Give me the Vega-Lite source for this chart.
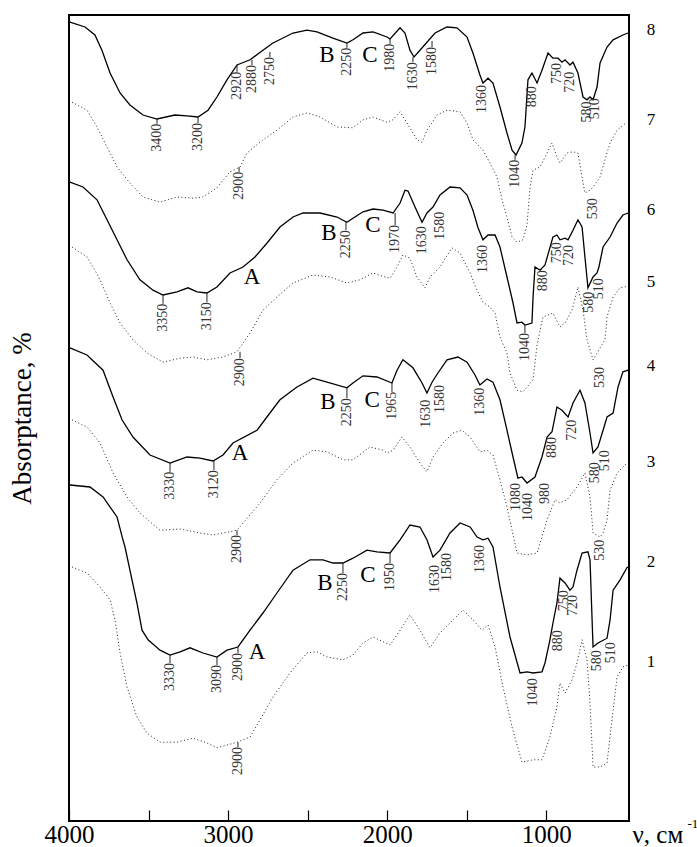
{
  "$schema": "https://vega.github.io/schema/vega-lite/v6.json",
  "width": 560,
  "height": 806,
  "autosize": {"type": "none"},
  "padding": {"left": 69, "top": 15, "right": 68, "bottom": 26},
  "background": "white",
  "config": {
    "view": {"stroke": "#000", "strokeWidth": 2},
    "font": "Liberation Serif"
  },
  "datasets": {
    "spec": [
      {"c":8,"wn":3994,"a":101.1},{"c":8,"wn":3899,"a":100.5},{"c":8,"wn":3837,"a":99.5},{"c":8,"wn":3793,"a":97.6},{"c":8,"wn":3742,"a":94.75},{"c":8,"wn":3679,"a":92.25},{"c":8,"wn":3617,"a":90.75},{"c":8,"wn":3535,"a":89.5},{"c":8,"wn":3447,"a":89.0},{"c":8,"wn":3334,"a":89.5},{"c":8,"wn":3258,"a":89.4},{"c":8,"wn":3189,"a":89.25},{"c":8,"wn":3126,"a":90.1},{"c":8,"wn":3070,"a":91.75},{"c":8,"wn":3007,"a":93.9},{"c":8,"wn":2944,"a":95.75},{"c":8,"wn":2913,"a":96.0},{"c":8,"wn":2862,"a":96.4},{"c":8,"wn":2781,"a":97.6},{"c":8,"wn":2718,"a":98.5},{"c":8,"wn":2592,"a":99.75},{"c":8,"wn":2504,"a":100.1},{"c":8,"wn":2441,"a":99.9},{"c":8,"wn":2341,"a":99.1},{"c":8,"wn":2253,"a":98.5},{"c":8,"wn":2215,"a":98.9},{"c":8,"wn":2152,"a":99.75},{"c":8,"wn":2089,"a":99.9},{"c":8,"wn":2001,"a":99.25},{"c":8,"wn":1982,"a":99.0},{"c":8,"wn":1919,"a":100.4},{"c":8,"wn":1888,"a":99.75},{"c":8,"wn":1857,"a":97.6},{"c":8,"wn":1831,"a":96.75},{"c":8,"wn":1794,"a":97.6},{"c":8,"wn":1750,"a":98.6},{"c":8,"wn":1699,"a":99.75},{"c":8,"wn":1624,"a":100.5},{"c":8,"wn":1561,"a":100.4},{"c":8,"wn":1498,"a":99.25},{"c":8,"wn":1461,"a":97.25},{"c":8,"wn":1417,"a":94.5},{"c":8,"wn":1398,"a":93.5},{"c":8,"wn":1366,"a":94.1},{"c":8,"wn":1335,"a":93.5},{"c":8,"wn":1291,"a":90.5},{"c":8,"wn":1247,"a":87.25},{"c":8,"wn":1215,"a":85.1},{"c":8,"wn":1190,"a":84.5},{"c":8,"wn":1153,"a":86.0},{"c":8,"wn":1134,"a":88.0},{"c":8,"wn":1115,"a":93.9},{"c":8,"wn":1090,"a":94.75},{"c":8,"wn":1058,"a":93.5},{"c":8,"wn":1027,"a":95.1},{"c":8,"wn":989,"a":97.25},{"c":8,"wn":958,"a":96.6},{"c":8,"wn":926,"a":96.6},{"c":8,"wn":901,"a":96.1},{"c":8,"wn":882,"a":96.4},{"c":8,"wn":851,"a":95.75},{"c":8,"wn":832,"a":96.1},{"c":8,"wn":801,"a":94.75},{"c":8,"wn":769,"a":91.75},{"c":8,"wn":744,"a":91.4},{"c":8,"wn":725,"a":91.75},{"c":8,"wn":706,"a":91.4},{"c":8,"wn":681,"a":93.0},{"c":8,"wn":662,"a":96.0},{"c":8,"wn":618,"a":98.0},{"c":8,"wn":580,"a":98.9},{"c":8,"wn":518,"a":99.5},{"c":8,"wn":486,"a":99.75},

      {"c":7,"wn":3981,"a":91.1},{"c":7,"wn":3887,"a":90.1},{"c":7,"wn":3824,"a":88.0},{"c":7,"wn":3761,"a":85.5},{"c":7,"wn":3698,"a":83.0},{"c":7,"wn":3617,"a":81.0},{"c":7,"wn":3535,"a":79.25},{"c":7,"wn":3428,"a":78.6},{"c":7,"wn":3321,"a":79.25},{"c":7,"wn":3221,"a":79.1},{"c":7,"wn":3158,"a":79.25},{"c":7,"wn":3070,"a":80.4},{"c":7,"wn":2988,"a":82.4},{"c":7,"wn":2925,"a":83.0},{"c":7,"wn":2881,"a":84.75},{"c":7,"wn":2781,"a":86.4},{"c":7,"wn":2693,"a":87.6},{"c":7,"wn":2592,"a":89.25},{"c":7,"wn":2504,"a":89.75},{"c":7,"wn":2422,"a":89.25},{"c":7,"wn":2315,"a":88.0},{"c":7,"wn":2215,"a":87.9},{"c":7,"wn":2152,"a":88.9},{"c":7,"wn":2089,"a":89.25},{"c":7,"wn":2001,"a":88.6},{"c":7,"wn":1963,"a":88.9},{"c":7,"wn":1919,"a":89.9},{"c":7,"wn":1875,"a":88.5},{"c":7,"wn":1813,"a":86.4},{"c":7,"wn":1781,"a":86.1},{"c":7,"wn":1750,"a":87.6},{"c":7,"wn":1687,"a":89.5},{"c":7,"wn":1624,"a":90.1},{"c":7,"wn":1542,"a":89.9},{"c":7,"wn":1498,"a":88.5},{"c":7,"wn":1461,"a":86.4},{"c":7,"wn":1398,"a":85.1},{"c":7,"wn":1354,"a":83.5},{"c":7,"wn":1310,"a":81.75},{"c":7,"wn":1278,"a":78.9},{"c":7,"wn":1247,"a":76.75},{"c":7,"wn":1215,"a":74.25},{"c":7,"wn":1184,"a":73.6},{"c":7,"wn":1146,"a":73.9},{"c":7,"wn":1121,"a":75.75},{"c":7,"wn":1102,"a":80.5},{"c":7,"wn":1083,"a":82.6},{"c":7,"wn":1039,"a":83.0},{"c":7,"wn":995,"a":84.75},{"c":7,"wn":964,"a":86.0},{"c":7,"wn":933,"a":84.25},{"c":7,"wn":914,"a":83.5},{"c":7,"wn":870,"a":84.75},{"c":7,"wn":832,"a":84.9},{"c":7,"wn":801,"a":84.75},{"c":7,"wn":775,"a":81.75},{"c":7,"wn":757,"a":79.75},{"c":7,"wn":725,"a":80.1},{"c":7,"wn":706,"a":80.5},{"c":7,"wn":662,"a":81.75},{"c":7,"wn":631,"a":83.9},{"c":7,"wn":599,"a":86.0},{"c":7,"wn":555,"a":87.6},{"c":7,"wn":493,"a":88.6},

      {"c":6,"wn":3994,"a":81.1},{"c":6,"wn":3912,"a":80.5},{"c":6,"wn":3824,"a":78.9},{"c":6,"wn":3761,"a":76.4},{"c":6,"wn":3698,"a":73.9},{"c":6,"wn":3635,"a":71.4},{"c":6,"wn":3554,"a":68.9},{"c":6,"wn":3472,"a":67.6},{"c":6,"wn":3409,"a":67.0},{"c":6,"wn":3321,"a":67.4},{"c":6,"wn":3252,"a":67.9},{"c":6,"wn":3195,"a":67.4},{"c":6,"wn":3133,"a":67.25},{"c":6,"wn":3070,"a":68.0},{"c":6,"wn":2988,"a":69.75},{"c":6,"wn":2906,"a":70.5},{"c":6,"wn":2831,"a":71.75},{"c":6,"wn":2755,"a":73.5},{"c":6,"wn":2674,"a":75.5},{"c":6,"wn":2592,"a":76.75},{"c":6,"wn":2529,"a":77.25},{"c":6,"wn":2422,"a":77.25},{"c":6,"wn":2315,"a":76.75},{"c":6,"wn":2253,"a":76.1},{"c":6,"wn":2215,"a":76.6},{"c":6,"wn":2152,"a":77.4},{"c":6,"wn":2089,"a":77.75},{"c":6,"wn":2026,"a":77.6},{"c":6,"wn":1963,"a":77.25},{"c":6,"wn":1919,"a":78.5},{"c":6,"wn":1888,"a":80.1},{"c":6,"wn":1869,"a":80.0},{"c":6,"wn":1825,"a":78.0},{"c":6,"wn":1781,"a":76.1},{"c":6,"wn":1750,"a":77.25},{"c":6,"wn":1712,"a":78.0},{"c":6,"wn":1668,"a":79.5},{"c":6,"wn":1605,"a":80.5},{"c":6,"wn":1542,"a":80.4},{"c":6,"wn":1498,"a":79.5},{"c":6,"wn":1461,"a":77.6},{"c":6,"wn":1429,"a":75.4},{"c":6,"wn":1398,"a":73.9},{"c":6,"wn":1366,"a":74.5},{"c":6,"wn":1322,"a":74.5},{"c":6,"wn":1291,"a":73.0},{"c":6,"wn":1247,"a":69.25},{"c":6,"wn":1209,"a":66.0},{"c":6,"wn":1184,"a":63.5},{"c":6,"wn":1153,"a":63.6},{"c":6,"wn":1134,"a":63.25},{"c":6,"wn":1090,"a":63.5},{"c":6,"wn":1083,"a":66.75},{"c":6,"wn":1071,"a":70.5},{"c":6,"wn":1039,"a":70.1},{"c":6,"wn":1008,"a":70.75},{"c":6,"wn":958,"a":74.25},{"c":6,"wn":933,"a":74.5},{"c":6,"wn":914,"a":73.9},{"c":6,"wn":882,"a":74.1},{"c":6,"wn":863,"a":73.9},{"c":6,"wn":832,"a":75.1},{"c":6,"wn":801,"a":76.4},{"c":6,"wn":775,"a":75.5},{"c":6,"wn":757,"a":71.75},{"c":6,"wn":738,"a":67.9},{"c":6,"wn":706,"a":69.25},{"c":6,"wn":681,"a":69.75},{"c":6,"wn":669,"a":70.5},{"c":6,"wn":643,"a":73.0},{"c":6,"wn":599,"a":74.25},{"c":6,"wn":555,"a":76.0},{"c":6,"wn":518,"a":77.0},{"c":6,"wn":486,"a":77.25},

      {"c":5,"wn":3981,"a":73.0},{"c":5,"wn":3887,"a":71.75},{"c":5,"wn":3837,"a":70.1},{"c":5,"wn":3805,"a":68.9},{"c":5,"wn":3742,"a":66.0},{"c":5,"wn":3679,"a":63.5},{"c":5,"wn":3598,"a":61.4},{"c":5,"wn":3510,"a":59.75},{"c":5,"wn":3409,"a":58.6},{"c":5,"wn":3302,"a":59.1},{"c":5,"wn":3221,"a":59.25},{"c":5,"wn":3133,"a":58.9},{"c":5,"wn":3032,"a":59.25},{"c":5,"wn":2944,"a":59.9},{"c":5,"wn":2862,"a":62.25},{"c":5,"wn":2781,"a":65.1},{"c":5,"wn":2693,"a":66.75},{"c":5,"wn":2592,"a":68.5},{"c":5,"wn":2466,"a":69.5},{"c":5,"wn":2359,"a":69.25},{"c":5,"wn":2253,"a":68.5},{"c":5,"wn":2171,"a":68.9},{"c":5,"wn":2089,"a":69.75},{"c":5,"wn":2014,"a":69.25},{"c":5,"wn":1982,"a":69.1},{"c":5,"wn":1938,"a":70.5},{"c":5,"wn":1901,"a":72.0},{"c":5,"wn":1857,"a":71.6},{"c":5,"wn":1813,"a":69.25},{"c":5,"wn":1762,"a":67.9},{"c":5,"wn":1731,"a":69.25},{"c":5,"wn":1668,"a":70.5},{"c":5,"wn":1593,"a":72.9},{"c":5,"wn":1542,"a":72.25},{"c":5,"wn":1479,"a":69.75},{"c":5,"wn":1435,"a":67.6},{"c":5,"wn":1398,"a":66.1},{"c":5,"wn":1354,"a":65.5},{"c":5,"wn":1322,"a":64.75},{"c":5,"wn":1291,"a":61.75},{"c":5,"wn":1247,"a":59.75},{"c":5,"wn":1228,"a":57.25},{"c":5,"wn":1184,"a":55.1},{"c":5,"wn":1146,"a":54.9},{"c":5,"wn":1083,"a":56.4},{"c":5,"wn":1058,"a":60.75},{"c":5,"wn":1021,"a":64.25},{"c":5,"wn":958,"a":64.75},{"c":5,"wn":914,"a":63.0},{"c":5,"wn":882,"a":63.5},{"c":5,"wn":838,"a":65.1},{"c":5,"wn":801,"a":68.0},{"c":5,"wn":769,"a":65.1},{"c":5,"wn":744,"a":61.4},{"c":5,"wn":706,"a":58.9},{"c":5,"wn":681,"a":59.75},{"c":5,"wn":631,"a":61.4},{"c":5,"wn":618,"a":64.25},{"c":5,"wn":580,"a":66.75},{"c":5,"wn":536,"a":67.9},{"c":5,"wn":486,"a":68.1},

      {"c":4,"wn":3994,"a":60.4},{"c":4,"wn":3887,"a":59.5},{"c":4,"wn":3786,"a":57.6},{"c":4,"wn":3723,"a":54.25},{"c":4,"wn":3667,"a":51.4},{"c":4,"wn":3598,"a":49.25},{"c":4,"wn":3491,"a":47.0},{"c":4,"wn":3365,"a":46.0},{"c":4,"wn":3258,"a":46.75},{"c":4,"wn":3177,"a":46.6},{"c":4,"wn":3095,"a":46.25},{"c":4,"wn":3032,"a":47.0},{"c":4,"wn":2969,"a":48.5},{"c":4,"wn":2818,"a":50.1},{"c":4,"wn":2737,"a":52.25},{"c":4,"wn":2674,"a":53.9},{"c":4,"wn":2567,"a":55.5},{"c":4,"wn":2466,"a":56.6},{"c":4,"wn":2378,"a":56.1},{"c":4,"wn":2253,"a":55.4},{"c":4,"wn":2215,"a":56.0},{"c":4,"wn":2152,"a":56.9},{"c":4,"wn":2064,"a":56.75},{"c":4,"wn":1970,"a":56.0},{"c":4,"wn":1938,"a":57.6},{"c":4,"wn":1901,"a":58.9},{"c":4,"wn":1838,"a":57.9},{"c":4,"wn":1781,"a":56.0},{"c":4,"wn":1750,"a":54.75},{"c":4,"wn":1718,"a":56.1},{"c":4,"wn":1681,"a":57.25},{"c":4,"wn":1624,"a":58.9},{"c":4,"wn":1555,"a":59.25},{"c":4,"wn":1498,"a":58.6},{"c":4,"wn":1448,"a":57.0},{"c":4,"wn":1417,"a":55.75},{"c":4,"wn":1373,"a":56.5},{"c":4,"wn":1335,"a":56.1},{"c":4,"wn":1291,"a":53.9},{"c":4,"wn":1247,"a":50.1},{"c":4,"wn":1209,"a":46.75},{"c":4,"wn":1178,"a":44.1},{"c":4,"wn":1153,"a":44.25},{"c":4,"wn":1121,"a":43.5},{"c":4,"wn":1071,"a":44.25},{"c":4,"wn":1027,"a":46.75},{"c":4,"wn":995,"a":49.25},{"c":4,"wn":964,"a":49.9},{"c":4,"wn":933,"a":53.0},{"c":4,"wn":901,"a":52.6},{"c":4,"wn":863,"a":51.75},{"c":4,"wn":832,"a":53.5},{"c":4,"wn":788,"a":55.1},{"c":4,"wn":757,"a":53.5},{"c":4,"wn":725,"a":49.75},{"c":4,"wn":706,"a":47.25},{"c":4,"wn":675,"a":48.0},{"c":4,"wn":643,"a":50.1},{"c":4,"wn":618,"a":51.75},{"c":4,"wn":580,"a":52.25},{"c":4,"wn":549,"a":55.5},{"c":4,"wn":518,"a":57.4},{"c":4,"wn":486,"a":57.6},

      {"c":3,"wn":3981,"a":51.4},{"c":3,"wn":3887,"a":50.5},{"c":3,"wn":3805,"a":48.5},{"c":3,"wn":3723,"a":44.75},{"c":3,"wn":3635,"a":41.75},{"c":3,"wn":3554,"a":39.75},{"c":3,"wn":3428,"a":37.6},{"c":3,"wn":3302,"a":37.75},{"c":3,"wn":3177,"a":37.25},{"c":3,"wn":3095,"a":37.0},{"c":3,"wn":2944,"a":37.6},{"c":3,"wn":2799,"a":41.0},{"c":3,"wn":2693,"a":43.9},{"c":3,"wn":2592,"a":46.0},{"c":3,"wn":2466,"a":47.6},{"c":3,"wn":2378,"a":47.4},{"c":3,"wn":2278,"a":46.4},{"c":3,"wn":2215,"a":46.4},{"c":3,"wn":2108,"a":48.0},{"c":3,"wn":2026,"a":47.6},{"c":3,"wn":2001,"a":47.25},{"c":3,"wn":1963,"a":47.6},{"c":3,"wn":1907,"a":49.25},{"c":3,"wn":1857,"a":48.0},{"c":3,"wn":1794,"a":46.0},{"c":3,"wn":1750,"a":44.9},{"c":3,"wn":1712,"a":46.75},{"c":3,"wn":1649,"a":48.5},{"c":3,"wn":1586,"a":49.75},{"c":3,"wn":1530,"a":50.1},{"c":3,"wn":1479,"a":49.25},{"c":3,"wn":1417,"a":47.4},{"c":3,"wn":1373,"a":47.6},{"c":3,"wn":1335,"a":47.0},{"c":3,"wn":1291,"a":43.9},{"c":3,"wn":1247,"a":40.5},{"c":3,"wn":1215,"a":37.6},{"c":3,"wn":1184,"a":34.75},{"c":3,"wn":1121,"a":34.5},{"c":3,"wn":1058,"a":34.75},{"c":3,"wn":1027,"a":36.75},{"c":3,"wn":995,"a":38.9},{"c":3,"wn":945,"a":41.4},{"c":3,"wn":914,"a":41.0},{"c":3,"wn":870,"a":41.4},{"c":3,"wn":807,"a":43.0},{"c":3,"wn":757,"a":44.75},{"c":3,"wn":725,"a":41.75},{"c":3,"wn":706,"a":37.25},{"c":3,"wn":662,"a":36.75},{"c":3,"wn":643,"a":37.25},{"c":3,"wn":618,"a":38.9},{"c":3,"wn":599,"a":42.6},{"c":3,"wn":555,"a":44.75},{"c":3,"wn":493,"a":46.0},

      {"c":2,"wn":3994,"a":43.25},{"c":2,"wn":3868,"a":43.0},{"c":2,"wn":3786,"a":41.75},{"c":2,"wn":3698,"a":39.25},{"c":2,"wn":3661,"a":36.4},{"c":2,"wn":3648,"a":35.5},{"c":2,"wn":3617,"a":32.6},{"c":2,"wn":3573,"a":28.5},{"c":2,"wn":3541,"a":25.1},{"c":2,"wn":3503,"a":23.9},{"c":2,"wn":3428,"a":22.6},{"c":2,"wn":3365,"a":22.0},{"c":2,"wn":3302,"a":22.4},{"c":2,"wn":3239,"a":22.9},{"c":2,"wn":3158,"a":22.25},{"c":2,"wn":3070,"a":21.75},{"c":2,"wn":3007,"a":22.6},{"c":2,"wn":2938,"a":23.0},{"c":2,"wn":2862,"a":25.1},{"c":2,"wn":2781,"a":27.25},{"c":2,"wn":2693,"a":29.75},{"c":2,"wn":2592,"a":32.6},{"c":2,"wn":2485,"a":33.9},{"c":2,"wn":2403,"a":33.9},{"c":2,"wn":2341,"a":33.5},{"c":2,"wn":2278,"a":33.5},{"c":2,"wn":2215,"a":34.1},{"c":2,"wn":2127,"a":35.1},{"c":2,"wn":2064,"a":34.9},{"c":2,"wn":1982,"a":34.75},{"c":2,"wn":1919,"a":36.4},{"c":2,"wn":1857,"a":38.25},{"c":2,"wn":1794,"a":38.0},{"c":2,"wn":1750,"a":36.4},{"c":2,"wn":1712,"a":34.25},{"c":2,"wn":1668,"a":35.1},{"c":2,"wn":1605,"a":37.25},{"c":2,"wn":1542,"a":38.5},{"c":2,"wn":1479,"a":38.0},{"c":2,"wn":1435,"a":36.75},{"c":2,"wn":1398,"a":36.4},{"c":2,"wn":1366,"a":36.6},{"c":2,"wn":1335,"a":35.5},{"c":2,"wn":1291,"a":30.5},{"c":2,"wn":1228,"a":24.25},{"c":2,"wn":1165,"a":19.75},{"c":2,"wn":1121,"a":19.9},{"c":2,"wn":1083,"a":19.75},{"c":2,"wn":1027,"a":19.9},{"c":2,"wn":1008,"a":21.0},{"c":2,"wn":977,"a":23.9},{"c":2,"wn":958,"a":26.0},{"c":2,"wn":933,"a":28.5},{"c":2,"wn":914,"a":31.6},{"c":2,"wn":882,"a":31.0},{"c":2,"wn":851,"a":30.1},{"c":2,"wn":832,"a":30.5},{"c":2,"wn":807,"a":32.6},{"c":2,"wn":775,"a":34.75},{"c":2,"wn":738,"a":34.9},{"c":2,"wn":725,"a":33.9},{"c":2,"wn":712,"a":26.4},{"c":2,"wn":706,"a":23.0},{"c":2,"wn":675,"a":23.5},{"c":2,"wn":618,"a":24.1},{"c":2,"wn":599,"a":26.4},{"c":2,"wn":580,"a":30.1},{"c":2,"wn":536,"a":31.4},{"c":2,"wn":493,"a":32.9},{"c":2,"wn":486,"a":33.0},

      {"c":1,"wn":3981,"a":33.0},{"c":1,"wn":3887,"a":32.25},{"c":1,"wn":3805,"a":30.5},{"c":1,"wn":3742,"a":28.9},{"c":1,"wn":3711,"a":26.4},{"c":1,"wn":3679,"a":22.25},{"c":1,"wn":3635,"a":18.0},{"c":1,"wn":3573,"a":14.25},{"c":1,"wn":3510,"a":12.25},{"c":1,"wn":3428,"a":11.1},{"c":1,"wn":3321,"a":11.1},{"c":1,"wn":3221,"a":11.6},{"c":1,"wn":3133,"a":11.0},{"c":1,"wn":3070,"a":10.4},{"c":1,"wn":2944,"a":11.1},{"c":1,"wn":2862,"a":11.75},{"c":1,"wn":2799,"a":13.9},{"c":1,"wn":2718,"a":16.75},{"c":1,"wn":2611,"a":19.75},{"c":1,"wn":2504,"a":22.25},{"c":1,"wn":2441,"a":22.4},{"c":1,"wn":2378,"a":21.75},{"c":1,"wn":2278,"a":21.4},{"c":1,"wn":2215,"a":22.0},{"c":1,"wn":2152,"a":23.5},{"c":1,"wn":2089,"a":24.25},{"c":1,"wn":1982,"a":23.25},{"c":1,"wn":1919,"a":25.1},{"c":1,"wn":1857,"a":27.0},{"c":1,"wn":1794,"a":25.1},{"c":1,"wn":1731,"a":22.9},{"c":1,"wn":1668,"a":24.75},{"c":1,"wn":1586,"a":26.4},{"c":1,"wn":1523,"a":27.6},{"c":1,"wn":1461,"a":26.4},{"c":1,"wn":1404,"a":25.1},{"c":1,"wn":1366,"a":25.75},{"c":1,"wn":1322,"a":23.0},{"c":1,"wn":1272,"a":18.0},{"c":1,"wn":1215,"a":13.0},{"c":1,"wn":1153,"a":8.6},{"c":1,"wn":1083,"a":8.9},{"c":1,"wn":1027,"a":8.9},{"c":1,"wn":977,"a":11.75},{"c":1,"wn":933,"a":15.5},{"c":1,"wn":914,"a":18.5},{"c":1,"wn":882,"a":17.25},{"c":1,"wn":838,"a":18.9},{"c":1,"wn":807,"a":21.0},{"c":1,"wn":775,"a":23.9},{"c":1,"wn":744,"a":21.4},{"c":1,"wn":725,"a":16.0},{"c":1,"wn":706,"a":8.0},{"c":1,"wn":662,"a":8.0},{"c":1,"wn":618,"a":8.5},{"c":1,"wn":587,"a":13.9},{"c":1,"wn":555,"a":19.25},{"c":1,"wn":518,"a":20.5},{"c":1,"wn":486,"a":20.75}
    ],
    "peaks": [
      {"t":"3400","wn":3447,"a":88.4,"base":89.0},{"t":"3200","wn":3189,"a":88.5,"base":89.25},{"t":"2920","wn":2944,"a":94.9,"base":95.75},{"t":"2880","wn":2850,"a":95.75,"base":96.4},{"t":"2750","wn":2737,"a":96.75,"base":97.4},{"t":"2250","wn":2253,"a":97.9,"base":98.5},{"t":"1980","wn":1982,"a":98.4,"base":99.0},{"t":"1630","wn":1838,"a":96.1,"base":96.75},{"t":"1580","wn":1718,"a":98.0,"base":98.75},{"t":"1360","wn":1404,"a":93.25},{"t":"1040","wn":1196,"a":83.9,"base":84.5},{"t":"880","wn":1090,"a":93.1},{"t":"750","wn":933,"a":96.0},{"t":"720","wn":851,"a":94.9},{"t":"580","wn":744,"a":91.2},{"t":"510","wn":693,"a":91.6},
      {"t":"2900","wn":2931,"a":82.4,"base":83.0},{"t":"530","wn":706,"a":79.1},
      {"t":"3350","wn":3409,"a":65.9,"base":67.0},{"t":"3150","wn":3133,"a":66.1,"base":67.25},{"t":"2250","wn":2259,"a":75.1,"base":76.1},{"t":"1970","wn":1950,"a":75.75,"base":77.25},{"t":"1630","wn":1781,"a":75.6},{"t":"1580","wn":1668,"a":77.4},{"t":"1360","wn":1398,"a":73.25},{"t":"1040","wn":1134,"a":62.25,"base":63.25},{"t":"880","wn":1021,"a":70.1},{"t":"750","wn":933,"a":73.6},{"t":"720","wn":857,"a":73.25},{"t":"580","wn":731,"a":67.4},{"t":"510","wn":669,"a":69.1},
      {"t":"2900","wn":2925,"a":59.1,"base":59.9},{"t":"530","wn":662,"a":58.0},
      {"t":"3330","wn":3365,"a":44.9,"base":46.0},{"t":"3120","wn":3089,"a":45.1,"base":46.25},{"t":"2250","wn":2253,"a":54.1,"base":55.4},{"t":"1965","wn":1970,"a":54.9,"base":56.0},{"t":"1630","wn":1756,"a":53.9},{"t":"1580","wn":1668,"a":55.75},{"t":"1360","wn":1417,"a":55.4},{"t":"1080","wn":1190,"a":43.5},{"t":"1040","wn":1115,"a":42.25},{"t":"980","wn":1008,"a":43.5},{"t":"880","wn":964,"a":49.25},{"t":"720","wn":838,"a":51.4},{"t":"580","wn":693,"a":46.1},{"t":"510","wn":631,"a":47.6},
      {"t":"2900","wn":2944,"a":37.0,"base":37.6},{"t":"530","wn":662,"a":36.4},
      {"t":"3330","wn":3365,"a":21.0,"base":22.0},{"t":"3090","wn":3070,"a":20.75,"base":21.75},{"t":"2900","wn":2938,"a":22.25,"base":23.0},{"t":"2250","wn":2278,"a":32.25,"base":33.5},{"t":"1950","wn":1982,"a":33.5,"base":34.75},{"t":"1630","wn":1699,"a":33.25},{"t":"1580","wn":1624,"a":34.75},{"t":"1360","wn":1417,"a":35.75},{"t":"1040","wn":1083,"a":19.1},{"t":"880","wn":926,"a":25.1},{"t":"750","wn":889,"a":30.1},{"t":"720","wn":832,"a":29.5},{"t":"580","wn":681,"a":22.6},{"t":"510","wn":593,"a":23.6},
      {"t":"2900","wn":2938,"a":10.5,"base":11.1}
    ],
    "bands": [
      {"t":"B","wn":2378,"a":97.0},{"t":"C","wn":2108,"a":97.0},
      {"t":"B","wn":2366,"a":74.75},{"t":"C","wn":2089,"a":75.75},{"t":"A","wn":2850,"a":69.25},
      {"t":"B","wn":2372,"a":53.6},{"t":"C","wn":2095,"a":53.9},{"t":"A","wn":2925,"a":47.25},
      {"t":"B","wn":2391,"a":31.0},{"t":"C","wn":2121,"a":32.0},{"t":"A","wn":2818,"a":22.4}
    ],
    "curveNo": [
      {"t":"8","wn":342,"a":100.1},{"t":"7","wn":342,"a":88.9},{"t":"6","wn":342,"a":77.6},{"t":"5","wn":342,"a":68.6},
      {"t":"4","wn":342,"a":58.1},{"t":"3","wn":342,"a":46.1},{"t":"2","wn":342,"a":33.6},{"t":"1","wn":342,"a":21.1}
    ],
    "unitExp": [
      {"t":"-1","wn":112,"a":0.9}
    ]
  },
  "encoding": {
    "x": {
      "field": "wn",
      "type": "quantitative",
      "scale": {"domain": [4000, 480], "nice": false, "zero": false},
      "axis": {
        "values": [4000, 3500, 3000, 2500, 2000, 1500, 1000],
        "format": "d",
        "labelExpr": "datum.value % 1000 === 0 ? datum.label : ''",
        "labelFlush": false,
        "labelOverlap": false,
        "grid": false,
        "domain": false,
        "tickSize": -11,
        "tickColor": "#000",
        "tickWidth": 1.2,
        "labelFont": "Liberation Serif",
        "labelFontSize": 25,
        "labelColor": "#000",
        "labelBaseline": "bottom",
        "labelPadding": 37,
        "title": "ν, см",
        "titleFont": "Liberation Serif",
        "titleFontSize": 25,
        "titleFontWeight": "normal",
        "titleColor": "#000",
        "titleX": 563,
        "titleY": 26,
        "titleAlign": "left",
        "titleBaseline": "bottom"
      }
    },
    "y": {
      "field": "a",
      "type": "quantitative",
      "scale": {"domain": [1.25, 102], "nice": false, "zero": false},
      "axis": {
        "ticks": false,
        "labels": false,
        "domain": false,
        "grid": false,
        "title": "Absorptance, %",
        "titleFont": "Liberation Serif",
        "titleFontSize": 27,
        "titleFontWeight": "normal",
        "titleColor": "#000",
        "titlePadding": 33
      }
    }
  },
  "layer": [
    {
      "data": {"name": "spec"},
      "transform": [{"filter": "datum.c % 2 === 1"}],
      "mark": {"type": "line", "color": "#222", "strokeWidth": 1, "strokeDash": [1, 2.5]},
      "encoding": {"detail": {"field": "c", "type": "nominal"}}
    },
    {
      "data": {"name": "spec"},
      "transform": [{"filter": "datum.c % 2 === 0"}],
      "mark": {"type": "line", "color": "#000", "strokeWidth": 1.3},
      "encoding": {"detail": {"field": "c", "type": "nominal"}}
    },
    {
      "data": {"name": "peaks"},
      "transform": [{"filter": "datum.base != null"}],
      "mark": {"type": "rule", "color": "#222", "strokeWidth": 1},
      "encoding": {"y2": {"field": "base"}}
    },
    {
      "data": {"name": "peaks"},
      "mark": {"type": "text", "angle": 270, "align": "right", "baseline": "middle", "font": "Liberation Serif", "fontSize": 14, "color": "#333"},
      "encoding": {"text": {"field": "t", "type": "nominal"}}
    },
    {
      "data": {"name": "bands"},
      "mark": {"type": "text", "align": "center", "baseline": "middle", "font": "Liberation Serif", "fontSize": 23, "color": "#000"},
      "encoding": {"text": {"field": "t", "type": "nominal"}}
    },
    {
      "data": {"name": "curveNo"},
      "mark": {"type": "text", "align": "center", "baseline": "middle", "font": "Liberation Serif", "fontSize": 17, "color": "#000"},
      "encoding": {"text": {"field": "t", "type": "nominal"}}
    },
    {
      "data": {"name": "unitExp"},
      "mark": {"type": "text", "align": "left", "baseline": "middle", "font": "Liberation Serif", "fontSize": 13, "color": "#000"},
      "encoding": {"text": {"field": "t", "type": "nominal"}}
    }
  ]
}
